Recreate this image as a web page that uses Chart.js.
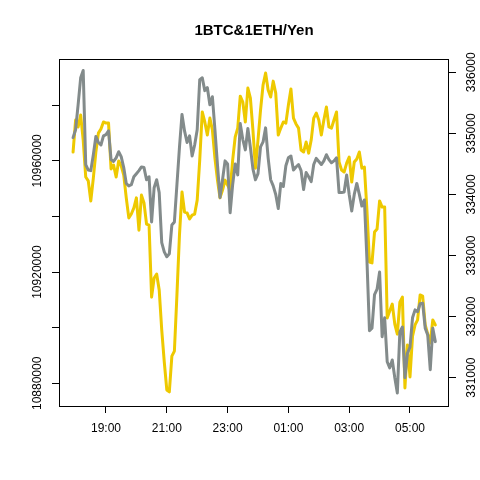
<!DOCTYPE html>
<html>
<head>
<meta charset="utf-8">
<script src="https://cdn.jsdelivr.net/npm/chart.js@4.4.1/dist/chart.umd.min.js"></script>
<style>
  html, body { margin: 0; padding: 0; background: #fff; }
</style>
</head>
<body>
<canvas id="chart" width="480" height="480"></canvas>
<script>
// 5-minute samples starting 17:55
const startHour = 17 + 55 / 60;
const btc = [
  10963200, 10974700, 10972200, 10976500, 10967500, 10954200, 10952800, 10945600, 10953800, 10963200,
  10970000, 10971500, 10974000, 10973600, 10973600, 10957100, 10958500, 10954200, 10960000, 10958200,
  10954900, 10946700, 10939500, 10940900, 10943100, 10946700, 10935100, 10947700, 10944900, 10937300,
  10936900, 10911000, 10917900, 10919300, 10913600, 10899200, 10887700, 10877600, 10876900, 10889800,
  10891600, 10911800, 10933300, 10948800, 10941600, 10941300, 10939100, 10940500, 10940900, 10945900,
  10960300, 10977600, 10974000, 10969300, 10975400, 10971100, 10961000, 10953100, 10946700, 10949500,
  10953100, 10951300, 10949500, 10960300, 10968600, 10971800, 10983300, 10981200, 10974000, 10986200,
  10982600, 10971100, 10957400, 10967500, 10978300, 10987300, 10991600, 10985500, 10983000, 10988700,
  10984400, 10969300, 10971800, 10974000, 10973600, 10980100, 10985900, 10975400, 10973300, 10971800,
  10963900, 10963200, 10966800, 10962800, 10967500, 10975400, 10977200, 10974700, 10969300, 10974700,
  10979400, 10972200, 10971800, 10974700, 10977600, 10959600, 10956700, 10956000, 10959200, 10961400,
  10952400, 10959600, 10960700, 10963200, 10957400, 10957800, 10942300, 10923600, 10923300, 10934400,
  10935500, 10945600, 10943400, 10943400, 10903500, 10906000, 10908500, 10901300, 10897700, 10909200,
  10911000, 10878300, 10893800, 10882300, 10897000, 10901000, 10902800, 10911800, 10911400, 10901000,
  10897700, 10894500, 10902800, 10901000
];
const eth = [
  334930, 335060, 335470, 335910, 336030, 334490, 334400, 334390, 334650, 334950,
  334850, 334810, 334960, 334980, 335040, 334570, 334540, 334600, 334700, 334620,
  334440, 334180, 334140, 334160, 334290, 334340, 334390, 334450, 334440, 334240,
  334290, 333550, 334110, 334240, 334030, 333210, 333060, 332980, 333030, 333500,
  333550, 334160, 334770, 335310, 335040, 334850, 334960, 334630, 334810, 335060,
  335880, 335910, 335700, 335750, 335470, 335600, 335060, 334490, 333950, 334240,
  334550, 334500, 333700, 334160, 334500, 334320, 335160, 334900, 334730, 335080,
  334770, 334420, 334240, 334340, 334780, 334860, 335090, 334600, 334240, 334140,
  334000, 333770, 334180, 334130, 334470, 334600, 334630, 334400, 334450, 334490,
  334390, 334080, 334360, 334290, 334210, 334490, 334590, 334540, 334490, 334550,
  334650, 334570, 334520, 334550, 334600, 334030, 334030, 334040, 334320, 334000,
  333730, 334000, 334180, 334000, 333810, 333910, 332930, 331770, 331810, 332360,
  332450, 332730, 331670, 331980, 331260, 331160, 331290, 331000, 330750, 331750,
  331830, 331000, 331400, 331500, 331980, 332110, 332080, 332210, 332220, 331810,
  331700, 331130, 331810, 331590
];
const times = btc.map((_, i) => startHour + i * 5 / 60);

const xTicks = [19, 21, 23, 25, 27, 29];
const xTickLabels = ['19:00', '21:00', '23:00', '01:00', '03:00', '05:00'];
const btcTicks = [10880000, 10900000, 10920000, 10940000, 10960000, 10980000];
const btcTickLabels = ['10880000', '', '10920000', '', '10960000', ''];
const ethTicks = [331000, 332000, 333000, 334000, 335000, 336000];
const ethTickLabels = ['331000', '332000', '333000', '334000', '335000', '336000'];

Chart.defaults.font.family = '"Liberation Sans", Arial, sans-serif';
Chart.defaults.font.size = 12;
Chart.defaults.color = '#000';

const boxPlugin = {
  id: 'box',
  afterDraw(chart) {
    const a = chart.chartArea;
    const ctx = chart.ctx;
    ctx.save();
    ctx.strokeStyle = '#000';
    ctx.lineWidth = 1;
    ctx.strokeRect(Math.round(a.left) + 0.5, Math.round(a.top) + 0.5,
      Math.round(a.right - a.left) - 1, Math.round(a.bottom - a.top));
    ctx.restore();
  }
};

const ctx = document.getElementById('chart').getContext('2d');
new Chart(ctx, {
  type: 'line',
  data: {
    datasets: [{
      label: '1BTC',
      data: times.map((t, i) => ({ x: t, y: btc[i] })),
      yAxisID: 'y',
      borderColor: '#EEC900',
      borderWidth: 3,
      pointRadius: 0,
      borderJoinStyle: 'round',
      borderCapStyle: 'round',
      order: 2
    }, {
      label: '1ETH',
      data: times.map((t, i) => ({ x: t, y: eth[i] })),
      yAxisID: 'y1',
      borderColor: '#838B8B',
      borderWidth: 3,
      pointRadius: 0,
      borderJoinStyle: 'round',
      borderCapStyle: 'round',
      order: 1
    }]
  },
  options: {
    responsive: false,
    animation: false,
    layout: { padding: 0 },
    plugins: {
      legend: { display: false },
      tooltip: { enabled: false },
      title: {
        display: true,
        text: '1BTC&1ETH/Yen',
        fullSize: false,
        font: { size: 15, weight: 'bold' },
        color: '#000',
        padding: { top: 22, bottom: 19 }
      }
    },
    scales: {
      x: {
        type: 'linear',
        position: 'bottom',
        min: 17.454,
        max: 30.283,
        afterBuildTicks: (scale) => { scale.ticks = xTicks.map(v => ({ value: v })); },
        afterFit: (scale) => { scale.height = 74; },
        ticks: {
          padding: 8,
          callback: (v) => xTickLabels[xTicks.indexOf(v)]
        },
        grid: { drawOnChartArea: false, drawTicks: true, tickLength: 7, color: '#000' },
        border: { display: false }
      },
      y: {
        type: 'linear',
        position: 'left',
        min: 10871835,
        max: 10996660,
        afterBuildTicks: (scale) => { scale.ticks = btcTicks.map(v => ({ value: v })); },
        afterFit: (scale) => { scale.width = 59; },
        ticks: {
          minRotation: 90,
          maxRotation: 90,
          crossAlign: 'center',
          padding: -12,
          callback: (v) => btcTickLabels[btcTicks.indexOf(v)]
        },
        grid: { drawOnChartArea: false, drawTicks: true, tickLength: 7, color: '#000' },
        border: { display: false }
      },
      y1: {
        type: 'linear',
        position: 'right',
        min: 330536,
        max: 336218,
        afterBuildTicks: (scale) => { scale.ticks = ethTicks.map(v => ({ value: v })); },
        afterFit: (scale) => { scale.width = 31; },
        ticks: {
          minRotation: 90,
          maxRotation: 90,
          crossAlign: 'center',
          padding: -4,
          callback: (v) => ethTickLabels[ethTicks.indexOf(v)]
        },
        grid: { drawOnChartArea: false, drawTicks: true, tickLength: 7, color: '#000' },
        border: { display: false }
      }
    }
  },
  plugins: [boxPlugin]
});
</script>
</body>
</html>
